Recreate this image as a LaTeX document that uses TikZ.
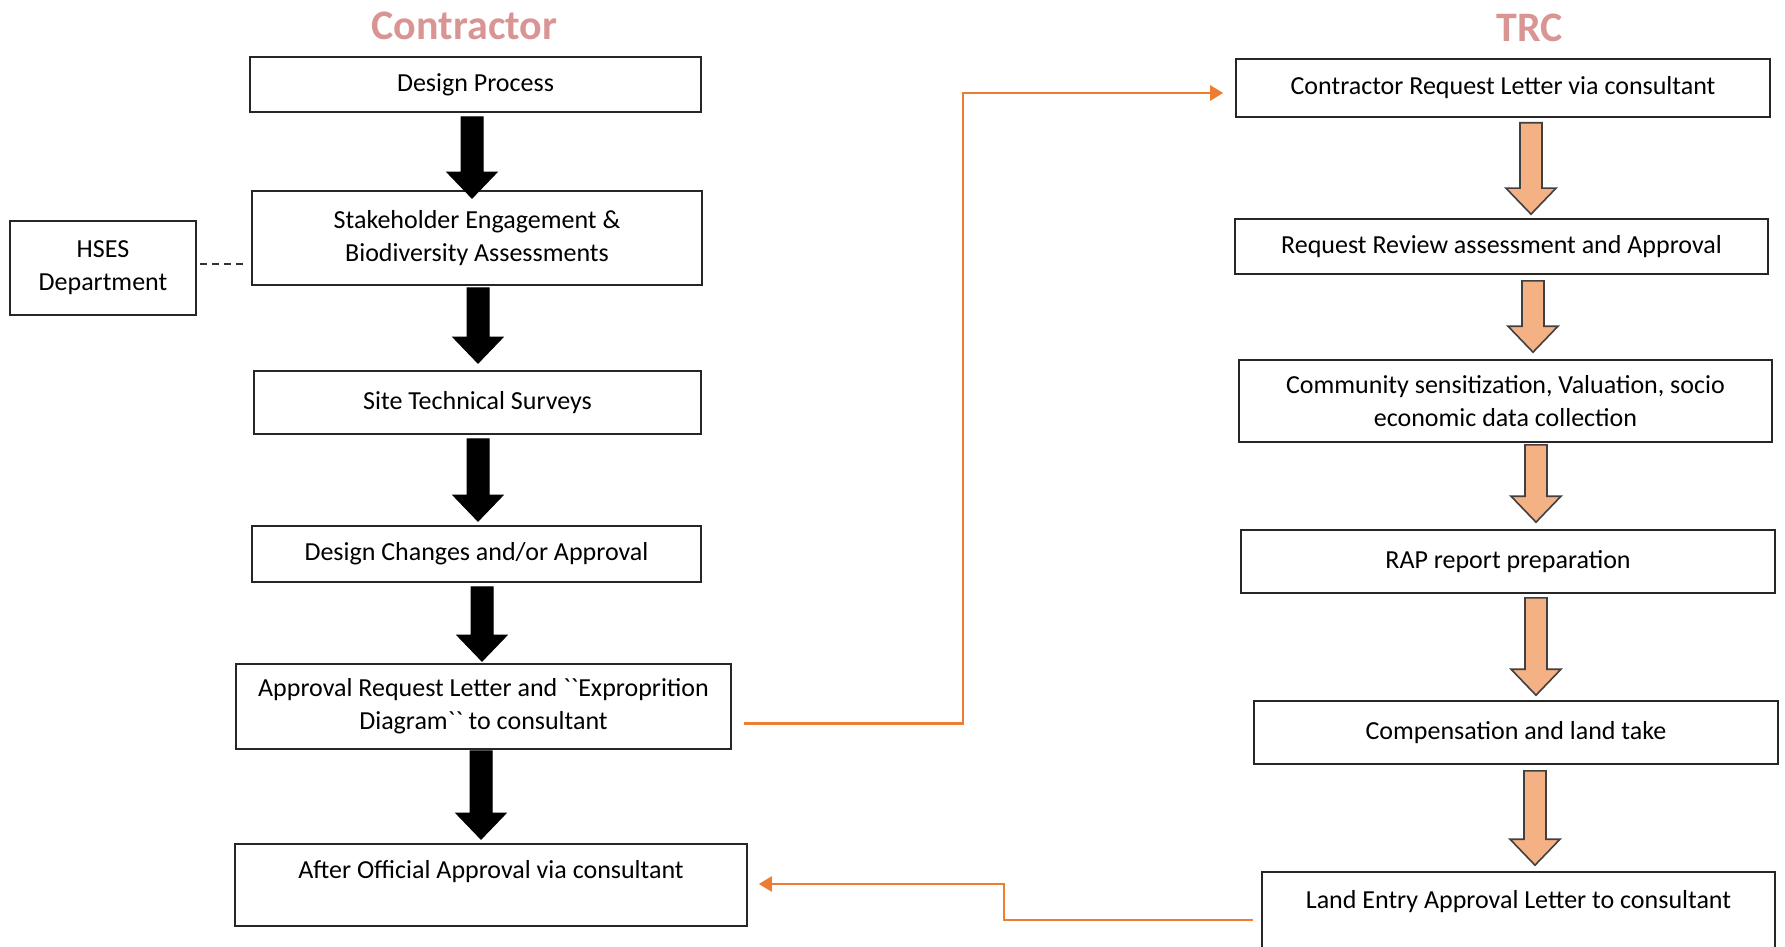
\documentclass[tikz,border=0pt]{standalone}
\usepackage{fontspec}
\setmainfont{Carlito}
\usetikzlibrary{calc,arrows.meta}

\definecolor{titlepink}{HTML}{D99594}
\definecolor{linkorange}{HTML}{ED7D31}
\definecolor{arrowfill}{HTML}{F4B183}

\tikzset{
	box/.style={draw=black!85, line width=0.8pt, align=center, inner xsep=4pt, inner ysep=0pt,
		font=\fontsize{13}{16.5}\selectfont},
	title/.style={font=\fontsize{21}{25}\selectfont\bfseries, text=titlepink},
	blk/.style={fill=black, draw=black, line width=0.5pt},
	org/.style={fill=arrowfill, draw=black!75, line width=0.8pt},
	link/.style={draw=linkorange, line width=1.2pt, -{Triangle[length=6.5pt,width=7.5pt]}},
	hsesline/.style={draw=black!80, line width=0.6pt, dash pattern=on 3.5pt off 2.5pt}
}

\newcommand{\bq}{\textasciigrave\textasciigrave}

% block arrow: style, top point, tip point (only its y is used)
\newcommand{\fatarrow}[3]{%
	\draw[#1] let \p1=(#2), \p2=(#3) in
		(\x1-5.5pt,\y1) -- (\x1+5.5pt,\y1) -- (\x1+5.5pt,\y2+13pt)
		-- (\x1+12.5pt,\y2+13pt) -- (\x1,\y2) -- (\x1-12.5pt,\y2+13pt)
		-- (\x1-5.5pt,\y2+13pt) -- cycle;}

\begin{document}
\begin{tikzpicture}[x=0.5pt,y=-0.5pt]
	\useasboundingbox (0,0) rectangle (1785,947);

	% contractor side
	\node[title] (contractor) at (464.5,26) {Contractor};
	\node[box, minimum width=225.5pt, minimum height=27.5pt] (design) at (475.5,84.5) {Design Process};
	\node[box, minimum width=225pt, minimum height=47pt] (stake) at (477,238) {Stakeholder Engagement \&\\Biodiversity Assessments};
	\node[box, minimum width=93pt, minimum height=47pt] (hses) at (103,268) {HSES\\Department};
	\node[box, minimum width=223.5pt, minimum height=31.5pt] (survey) at (477.5,402.5) {Site Technical Surveys};
	\node[box, minimum width=224.5pt, minimum height=28pt] (changes) at (476.5,554) {Design Changes and/or Approval};
	\node[box, minimum width=247.5pt, minimum height=42.5pt] (request) at (483.5,706.5) {Approval Request Letter and \bq Exproprition\\Diagram\bq{} to consultant};
	\node[box, minimum width=256pt, minimum height=41pt, text height=17pt, text depth=24pt] (official) at (491,885) {After Official Approval via consultant};

	% TRC side
	\node[title] (trc) at (1530,28) {TRC};
	\node[box, minimum width=267pt, minimum height=29pt] (letter) at (1503,88) {Contractor Request Letter via consultant};
	\node[box, minimum width=266.5pt, minimum height=27.5pt] (review) at (1501.5,246.5) {Request Review assessment and Approval};
	\node[box, minimum width=266.5pt, minimum height=41pt] (community) at (1505.5,401) {Community sensitization, Valuation, socio\\economic data collection};
	\node[box, minimum width=267pt, minimum height=31.5pt] (rap) at (1508,561.5) {RAP report preparation};
	\node[box, minimum width=262pt, minimum height=31.5pt] (compensation) at (1516,732.5) {Compensation and land take};
	\node[box, minimum width=256.5pt, minimum height=48pt, text height=18pt, text depth=30pt] (entry) at (1518.5,920) {Land Entry Approval Letter to consultant};

	% flow arrows
	\fatarrow{blk}{[shift={(-3.5,4)}]design.south}{[shift={(0,8)}]stake.north}
	\fatarrow{blk}{[shift={(1,2)}]stake.south}{[shift={(0,-7)}]survey.north}
	\fatarrow{blk}{[shift={(0.5,4)}]survey.south}{[shift={(0,-4)}]changes.north}
	\fatarrow{blk}{[shift={(5.5,4)}]changes.south}{[shift={(0,-2)}]request.north}
	\fatarrow{blk}{[shift={(-2.5,1)}]request.south}{[shift={(0,-4)}]official.north}

	\fatarrow{org}{[shift={(28,5)}]letter.south}{[shift={(0,-4)}]review.north}
	\fatarrow{org}{[shift={(31.5,6)}]review.south}{[shift={(0,-7)}]community.north}
	\fatarrow{org}{[shift={(30.5,2)}]community.south}{[shift={(0,-7)}]rap.north}
	\fatarrow{org}{[shift={(28,4)}]rap.south}{[shift={(0,-5)}]compensation.north}
	\fatarrow{org}{[shift={(19,6)}]compensation.south}{[shift={(0,-6)}]entry.north}

	% links between the two sides
	\draw[hsesline] ([shift={(3,-4)}]hses.east) -- ([shift={(-7,-4)}]hses.east -| stake.west);
	\draw[link] ([shift={(12,17)}]request.east) -- ++(219,0) |- ([shift={(-12,5)}]letter.west);
	\draw[link] ([shift={(-8,0)}]entry.west) -- ++(-249,0) |- ([shift={(11,-1)}]official.east);
\end{tikzpicture}
\end{document}
